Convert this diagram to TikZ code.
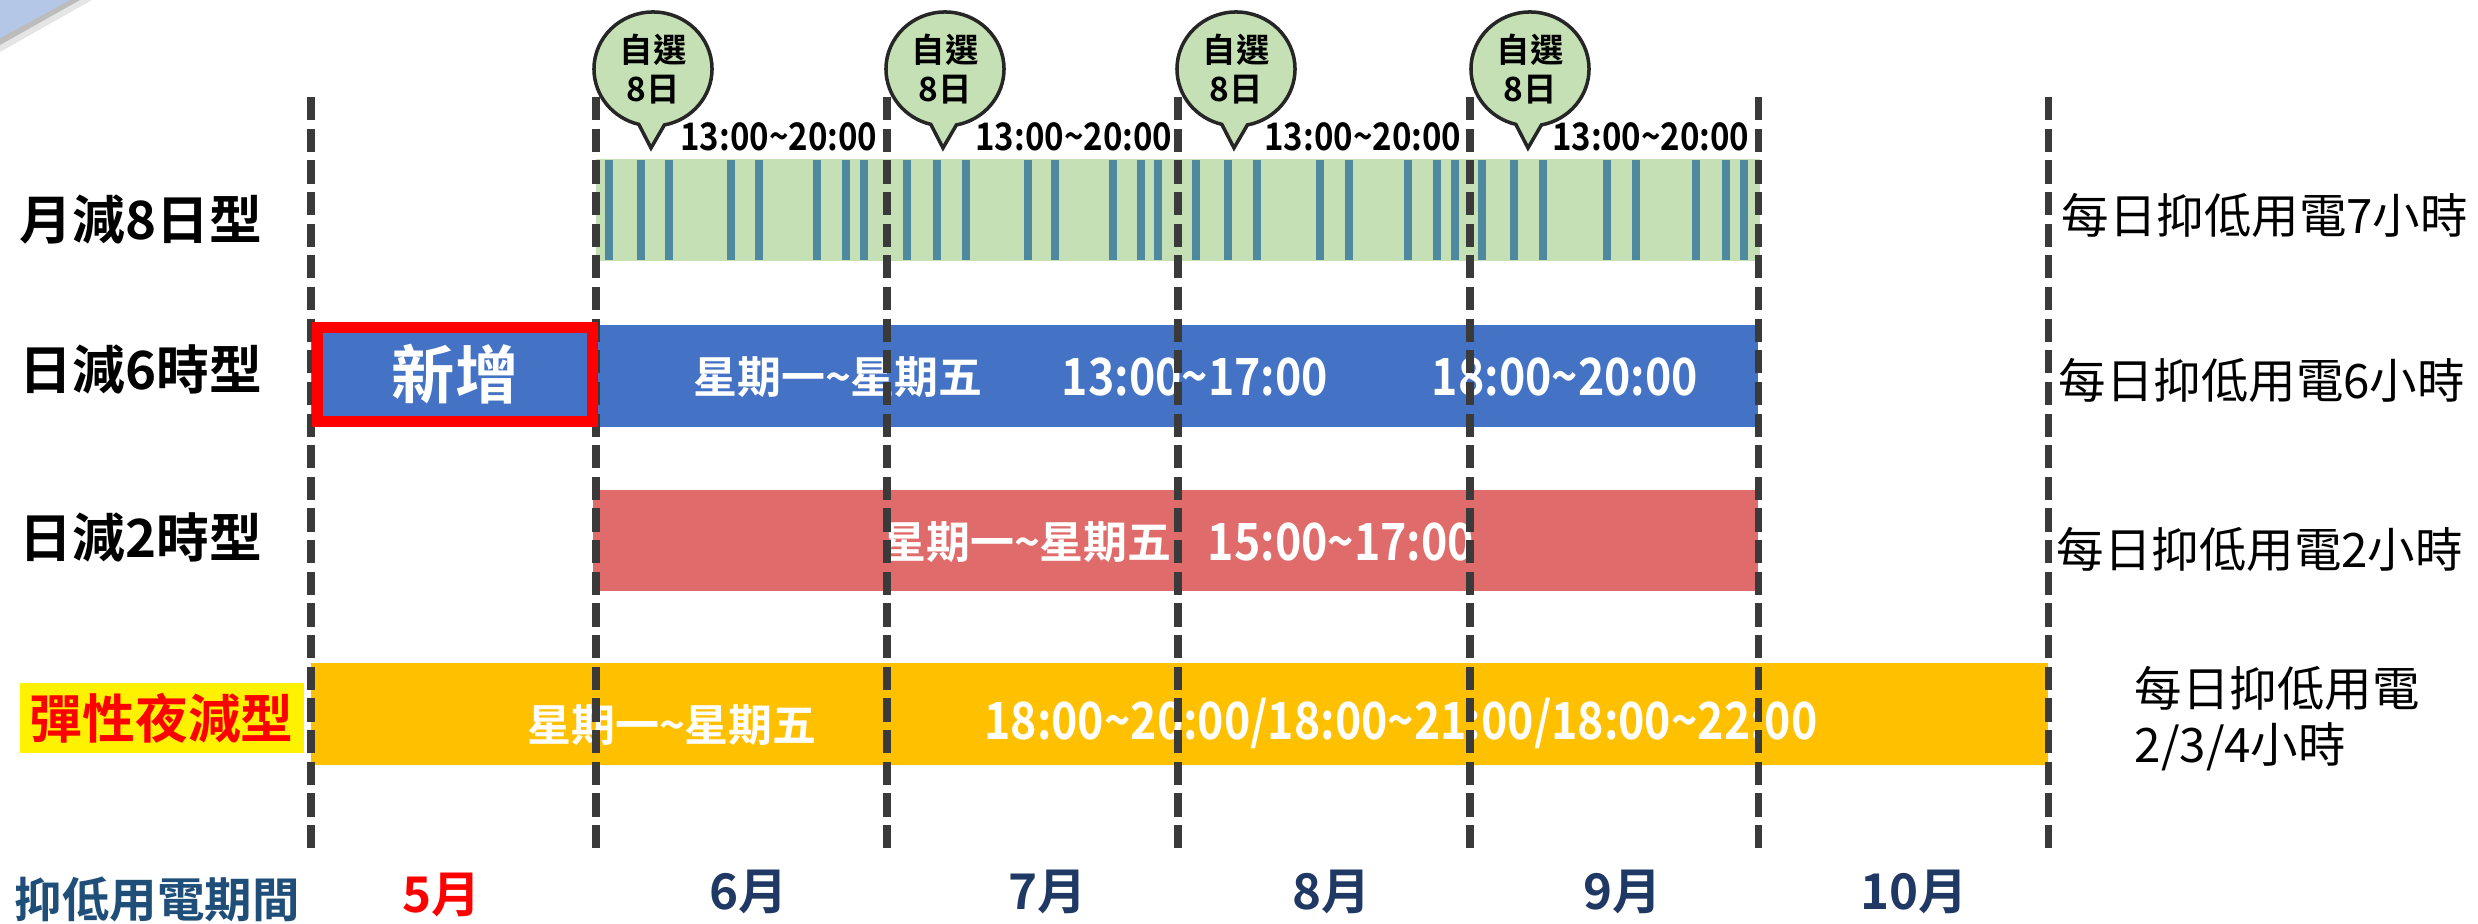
\documentclass[tikz,border=0pt]{standalone}
\usepackage{fontspec}
\setmainfont{Noto Sans CJK TC}[BoldFont={Noto Sans CJK TC Bold}]
\usetikzlibrary{positioning,shapes.callouts}

\definecolor{bargreen}{HTML}{C5E0B4}
\definecolor{stripeblue}{HTML}{4E89A0}
\definecolor{barblue}{HTML}{4472C4}
\definecolor{barred}{HTML}{E06B6B}
\definecolor{barorange}{HTML}{FFC000}
\definecolor{linegray}{HTML}{3A3A3A}
\definecolor{monthnavy}{HTML}{203864}
\definecolor{periodblue}{HTML}{1F4E79}
\definecolor{cornerblue}{HTML}{B4C7E7}

\begin{document}
\begin{tikzpicture}
[x=0.01cm, y=-0.01cm,
% STYLES
every node/.style={inner sep=0pt},
% row names on the left, notes on the right
rowlabel/.style={anchor=west, font=\fontsize{15}{18}\selectfont\bfseries},
note/.style={anchor=west, align=left, font=\fontsize{13.5}{16.8}\selectfont},
% texts in the coloured bars
barday/.style={text=white, font=\fontsize{12.5}{15}\selectfont\bfseries},
bartime/.style={text=white, font=\fontsize{14.6}{17}\selectfont\bfseries\addfontfeature{FakeStretch=0.87}},
picktime/.style={anchor=east, font=\fontsize{10.8}{13}\selectfont\bfseries\addfontfeature{FakeStretch=0.87}},
% the speech bubbles for the chosen days
pick/.style={ellipse callout, draw=black!85, line width=1pt, fill=bargreen, minimum width=1.18cm, minimum height=1.14cm, callout pointer arc=25, align=center, font=\fontsize{9.5}{11}\selectfont\bfseries},
month/.style={text=monthnavy, font=\fontsize{14}{17}\selectfont\bfseries},
monthline/.style={draw=linegray, line width=2pt, dash pattern=on 6.6pt off 2.4pt},
daystripe/.style={draw=stripeblue, line width=2.3pt}]

\useasboundingbox (0,0) rectangle (2478,924);

% Slide corner
\fill[black, opacity=0.10] (0,0) -- (92,0) -- (0,52) -- cycle;
\fill[black, opacity=0.18] (0,0) -- (80,0) -- (0,45) -- cycle;
\fill[cornerblue] (0,0) -- (70,0) -- (0,38) -- cycle;

% Bars
\fill[bargreen] (596,159) rectangle (1760,261);
\foreach \sx in {609,641,669,731,759,817,846,864,
                 907,937,966,1028,1055,1113,1141,1158,
                 1196,1228,1257,1320,1349,1408,1437,1455,
                 1482,1514,1543,1607,1636,1696,1726,1744}
  \draw[daystripe] (\sx,160) -- (\sx,260);
\fill[barblue] (311,325) rectangle (1758,427);
\fill[barred] (593,490) rectangle (1758,591);
\fill[barorange] (311,663) rectangle (2048,765);

% Chosen days
\foreach \cx/\name in {653/jun, 945/jul, 1236/aug, 1530/sep}
  \node[pick, callout absolute pointer={(\cx-2,148)}] (pick-\name) at (\cx,69) {自選\\8日};
\foreach \tx/\name in {878/jun, 1173/jul, 1462/aug, 1750/sep}
  \node[picktime] (time-\name) at (\tx,137) {13:00\textasciitilde{}20:00};

% Rows
\node[rowlabel] (month8) at (19,220) {月減8日型};
\node[rowlabel] (day6) at (19,369) {日減6時型};
\node[rowlabel] (day2) at (19,537) {日減2時型};
\node[rowlabel, fill=yellow, text=red, minimum width=2.84cm, minimum height=0.70cm] (night) at (19,718) {彈性夜減型};

\node[barday] (day6-days) at (838,377) {星期一\textasciitilde{}星期五};
\node[bartime] (day6-noon) at (1195,377) {13:00\textasciitilde{}17:00};
\node[bartime] (day6-eve) at (1565,377) {18:00\textasciitilde{}20:00};
\node[barday] (day2-days) at (1027,542) {星期一\textasciitilde{}星期五};
\node[bartime] (day2-time) at (1341,542) {15:00\textasciitilde{}17:00};
\node[barday] (night-days) at (672,725) {星期一\textasciitilde{}星期五};
\node[bartime] (night-time) at (1401,723) {18:00\textasciitilde{}20:00/18:00\textasciitilde{}21:00/18:00\textasciitilde{}22:00};

\node[note] (month8-note) at (2061,215) {每日抑低用電7小時};
\node[note] (day6-note) at (2058,380) {每日抑低用電6小時};
\node[note] (day2-note) at (2056,549) {每日抑低用電2小時};
\node[note] (night-note1) at (2134,688) {每日抑低用電};
\node[note, below=0.11cm of night-note1.south west, anchor=north west] (night-note2) {2/3/4小時};

% Months
\node[rowlabel, text=periodblue, font=\fontsize{13.5}{16}\selectfont\bfseries] (period) at (14,899) {抑低用電期間};
\node[month, text=red] (may) at (442,895) {5月};
\foreach \mx/\mname/\mtext in {749/jun/6月, 1048/jul/7月, 1332/aug/8月, 1623/sep/9月, 1914/oct/10月}
  \node[month] (\mname) at (\mx,892) {\mtext};

\foreach \mx in {311,596,887,1178,1470,1758,2048}
  \draw[monthline] (\mx,97) -- (\mx,855);

% New for this year
\node[draw=red, line width=3.1pt, fill=barblue, minimum width=2.75cm, minimum height=0.94cm, text=white, font=\fontsize{18}{21}\selectfont\bfseries] (new) at (455,374.5) {新增};

\end{tikzpicture}
\end{document}
